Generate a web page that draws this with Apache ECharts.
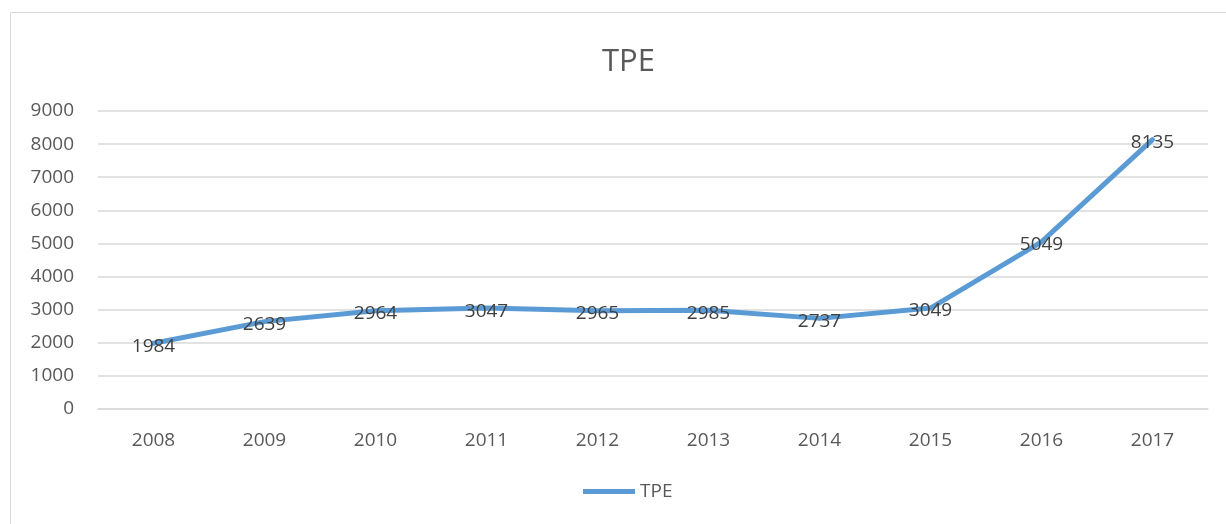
<html>
  <head>
    <meta charset="UTF-8" />
    <script src="https://cdn.jsdelivr.net/npm/echarts/dist/echarts.min.js"></script>
    <title>TPE</title>
    <style>
      html, body { margin: 0; padding: 0; background: #fff; }
      #main { width: 1226px; height: 524px; }
    </style>
  </head>
  <body>
    <div id="main"></div>
    <script>
      // years and TPE values
      const years = ['2008', '2009', '2010', '2011', '2012', '2013', '2014', '2015', '2016', '2017'];
      const tpe = [1984, 2639, 2964, 3047, 2965, 2985, 2737, 3049, 5049, 8135];

      var chartDom = document.getElementById('main');
      var myChart = echarts.init(chartDom);
      var font = 'Open Sans, Noto Sans, sans-serif';

      var option = {
        animation: false,
        graphic: [
          {
            type: 'rect',
            shape: { x: 10.5, y: 12.5, width: 1240, height: 540 },
            style: { fill: 'none', stroke: '#d9d9d9', lineWidth: 1 },
            silent: true
          }
        ],
        title: {
          text: 'TPE',
          left: 597,
          top: 42,
          textStyle: { fontFamily: font, fontSize: 31, fontWeight: 'normal', color: '#595959' }
        },
        legend: {
          bottom: 18,
          left: 578,
          itemWidth: 52,
          itemHeight: 5,
          itemGap: 10,
          icon: 'rect',
          textStyle: { fontFamily: font, fontSize: 19, color: '#595959' },
          data: ['TPE']
        },
        grid: { left: 98, right: 18, top: 111, bottom: 115 },
        xAxis: {
          type: 'category',
          data: years,
          boundaryGap: true,
          axisLine: { lineStyle: { color: '#d9d9d9', width: 1.5 } },
          axisTick: { show: false },
          axisLabel: { fontFamily: font, fontSize: 19, color: '#595959', margin: 22 }
        },
        yAxis: {
          type: 'value',
          min: 0,
          max: 9000,
          interval: 1000,
          axisLine: { show: false },
          axisTick: { show: false },
          splitLine: { lineStyle: { color: '#d9d9d9', width: 1.5 } },
          axisLabel: {
            fontFamily: font,
            fontSize: 19,
            color: '#595959',
            margin: 24,
            formatter: function (v) { return String(v); }
          }
        },
        series: [
          {
            name: 'TPE',
            type: 'line',
            data: tpe,
            symbol: 'circle',
            symbolSize: 1,
            showSymbol: true,
            lineStyle: { color: '#5b9bd5', width: 5, cap: 'round', join: 'round' },
            itemStyle: { color: '#5b9bd5' },
            label: {
              show: true,
              position: 'inside',
              offset: [0, 3],
              fontFamily: font,
              fontSize: 19,
              color: '#404040'
            }
          }
        ]
      };
      myChart.setOption(option, true);
    </script>
  </body>
</html>
